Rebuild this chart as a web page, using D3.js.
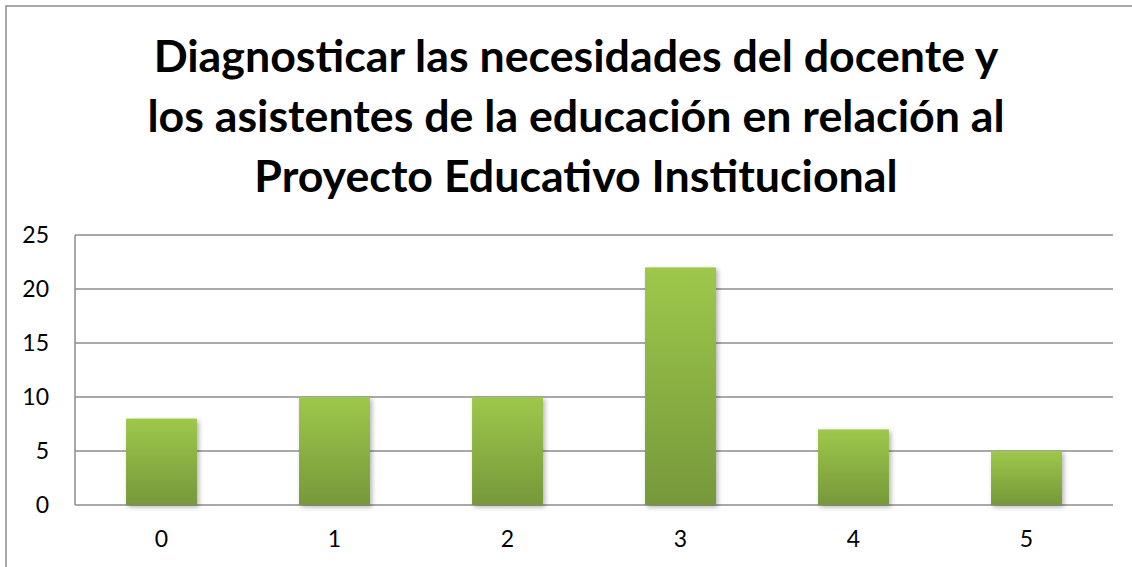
<!DOCTYPE html>
<html>
<head>
<meta charset="utf-8">
<script src="https://cdn.jsdelivr.net/npm/d3@7"></script>
<style>
  html, body { margin: 0; padding: 0; background: #fff; overflow: hidden; }
  svg { display: block; }
</style>
</head>
<body>
<script>
const categories = ['0', '1', '2', '3', '4', '5']
const values = [8, 10, 10, 22, 7, 5]
const yTicks = [0, 5, 10, 15, 20, 25]
const titleLines = [
  'Diagnosticar las necesidades del docente y',
  'los asistentes de la educación en relación al',
  'Proyecto Educativo Institucional'
]

const SVG_WIDTH = 1132
const SVG_HEIGHT = 567
const PLOT = { LEFT: 75, RIGHT: 1113, TOP: 235, BOTTOM: 505 }
const FONT = 'Lato, "Open Sans", "Noto Sans", sans-serif'
const LABEL_SIZE = '23px'

const svg = d3.select('body')
  .append('svg')
  .attr('width', SVG_WIDTH)
  .attr('height', SVG_HEIGHT)

const defs = svg.append('defs')
const grad = defs.append('linearGradient')
  .attr('id', 'barGrad')
  .attr('x1', 0).attr('y1', 0).attr('x2', 0).attr('y2', 1)
grad.append('stop').attr('offset', '0%').attr('stop-color', '#9dc84b')
grad.append('stop').attr('offset', '100%').attr('stop-color', '#76983a')

const shadow = defs.append('filter')
  .attr('id', 'shadow')
  .attr('x', '-20%').attr('y', '-10%').attr('width', '150%').attr('height', '130%')
shadow.append('feDropShadow')
  .attr('dx', 2).attr('dy', 2)
  .attr('stdDeviation', 2.5)
  .attr('flood-color', '#000')
  .attr('flood-opacity', 0.3)

// chart border (runs off the bottom/right edge)
svg.append('rect')
  .attr('x', 6).attr('y', 6)
  .attr('width', SVG_WIDTH + 20).attr('height', SVG_HEIGHT + 20)
  .attr('fill', 'none')
  .attr('stroke', '#8c8c8c')
  .attr('stroke-width', 1.5)

// title
const title = svg.append('text')
  .attr('text-anchor', 'middle')
  .attr('font-family', FONT)
  .attr('font-weight', 'bold')
  .attr('fill', '#000')
  .attr('font-size', 40)

title.selectAll('tspan')
  .data(titleLines)
  .enter()
  .append('tspan')
    .attr('x', 576)
    .attr('y', (d, i) => 72 + i * 60)
    .text(d => d)

// fit title width to the reference (first line ~845px)
const w0 = title.select('tspan').node().getComputedTextLength()
title.attr('font-size', 40 * 845 / w0)

// scales
const scaleX = d3.scaleBand()
  .domain(categories)
  .range([PLOT.LEFT, PLOT.RIGHT])
  .paddingInner(0.59)
  .paddingOuter(0.295)

const scaleY = d3.scaleLinear()
  .domain([0, 25])
  .range([PLOT.BOTTOM, PLOT.TOP])

// gridlines
svg.append('g')
  .selectAll('line')
  .data(yTicks)
  .enter()
  .append('line')
    .attr('x1', PLOT.LEFT)
    .attr('x2', PLOT.RIGHT)
    .attr('y1', d => scaleY(d))
    .attr('y2', d => scaleY(d))
    .attr('stroke', '#8c8c8c')
    .attr('stroke-width', 1.5)

// y axis line
svg.append('line')
  .attr('x1', PLOT.LEFT).attr('x2', PLOT.LEFT)
  .attr('y1', PLOT.TOP).attr('y2', PLOT.BOTTOM)
  .attr('stroke', '#8c8c8c')
  .attr('stroke-width', 1.5)

// y axis labels
const yAxis = d3.axisLeft(scaleY).tickValues(yTicks).tickSize(0).tickPadding(26)
svg.append('g')
    .attr('transform', `translate(${PLOT.LEFT}, 0)`)
    .call(yAxis)
    .call(g => g.select('.domain').remove())
  .selectAll('text')
    .attr('font-family', FONT)
    .attr('font-size', LABEL_SIZE)
    .attr('fill', '#000')

// x axis labels
const xAxis = d3.axisBottom(scaleX).tickSize(0).tickPadding(26)
svg.append('g')
    .attr('transform', `translate(0, ${PLOT.BOTTOM})`)
    .call(xAxis)
    .call(g => g.select('.domain').remove())
  .selectAll('text')
    .attr('font-family', FONT)
    .attr('font-size', LABEL_SIZE)
    .attr('fill', '#000')

// bars
svg.append('g')
  .selectAll('rect')
  .data(values)
  .enter()
  .append('rect')
    .attr('x', (d, i) => scaleX(categories[i]))
    .attr('y', d => scaleY(d))
    .attr('width', scaleX.bandwidth())
    .attr('height', d => PLOT.BOTTOM - scaleY(d))
    .attr('fill', 'url(#barGrad)')
    .attr('filter', 'url(#shadow)')
</script>
</body>
</html>
